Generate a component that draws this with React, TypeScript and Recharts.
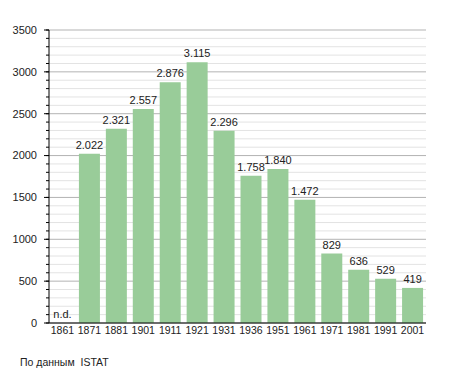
import React from 'react';
import { BarChart, Bar, XAxis, YAxis, CartesianGrid, LabelList, ReferenceDot } from 'recharts';

// censimenti (1861 non disponibile)
const years = ['1861', '1871', '1881', '1901', '1911', '1921', '1931', '1936', '1951', '1961', '1971', '1981', '1991', '2001'];
const residents: (number | null)[] = [null, 2022, 2321, 2557, 2876, 3115, 2296, 1758, 1840, 1472, 829, 636, 529, 419];

const yTicks = [
  0, 100, 200, 300, 400, 500, 600, 700, 800, 900, 1000, 1100, 1200, 1300, 1400, 1500, 1600, 1700,
  1800, 1900, 2000, 2100, 2200, 2300, 2400, 2500, 2600, 2700, 2800, 2900, 3000, 3100, 3200, 3300, 3400, 3500,
];
const MAJOR_STEP = 500;

const FONT = '"Liberation Sans", Arial, sans-serif';
const TICK_SIZE = 3;
const TICK_MARGIN = 9;

const fmt = (v: number | null) => {
  if (v == null) return 'n.d.';
  return String(v).replace(/\B(?=(\d{3})+(?!\d))/g, '.');
};

const data = years.map((y, i) => ({ year: y, value: residents[i], label: residents[i] == null ? '' : fmt(residents[i]) }));
const missing = years.filter((_, i) => residents[i] == null);

const YTick = (props: any) => {
  const { x, y, payload } = props;
  const v = payload.value as number;
  if (v % MAJOR_STEP !== 0) return null;
  const axisX = x + TICK_SIZE + TICK_MARGIN;
  return (
    <g>
      <line x1={axisX - 5} x2={axisX} y1={y} y2={y} stroke="#000" />
      <text x={x} y={y} dy="0.355em" textAnchor="end" fontSize={11} fill="#222" fontFamily={FONT}>
        {v}
      </text>
    </g>
  );
};

const GridLine = (props: any) => {
  const { x1, x2, y1, y2, index } = props;
  const v = yTicks[index];
  const major = v % MAJOR_STEP === 0;
  return <line x1={x1} x2={x2} y1={y1} y2={y2} stroke={major ? '#b3b3b3' : '#e3e3e3'} strokeWidth={1} />;
};

export default function App() {
  return (
    <div style={{ position: 'absolute', left: 0, top: 0, width: 455, height: 373, background: '#fff', fontFamily: FONT }}>
      <BarChart
        width={455}
        height={373}
        data={data}
        margin={{ top: 30, right: 29, bottom: 30, left: 0 }}
      >
        <CartesianGrid vertical={false} horizontal={GridLine} />
        <XAxis
          dataKey="year"
          height={20}
          tickLine={false}
          tickSize={0}
          tickMargin={4}
          axisLine={{ stroke: '#000' }}
          interval={0}
          tick={{ fontSize: 10.5, fill: '#222', fontFamily: FONT }}
        />
        <YAxis
          width={49}
          domain={[0, 3500]}
          ticks={yTicks}
          interval={0}
          tickSize={TICK_SIZE}
          tickMargin={TICK_MARGIN}
          axisLine={{ stroke: '#000' }}
          tickLine={{ stroke: '#000' }}
          tick={<YTick />}
        />
        <Bar dataKey="value" fill="#99cc99" barSize={21} isAnimationActive={false}>
          <LabelList dataKey="label" position="top" offset={5} fontSize={11} fill="#222" fontFamily={FONT} />
        </Bar>
        {missing.map((y) => (
          <ReferenceDot
            key={y}
            x={y}
            y={0}
            r={0.01}
            fill="none"
            stroke="none"
            label={{ value: 'n.d.', position: 'top', offset: 5, fontSize: 11, fill: '#222', fontFamily: FONT }}
          />
        ))}
      </BarChart>
      <div
        style={{
          position: 'absolute',
          left: 20,
          top: 356,
          fontSize: 10.5,
          lineHeight: '12px',
          color: '#222',
          whiteSpace: 'pre',
        }}
      >
        По данным  ISTAT
      </div>
    </div>
  );
}
